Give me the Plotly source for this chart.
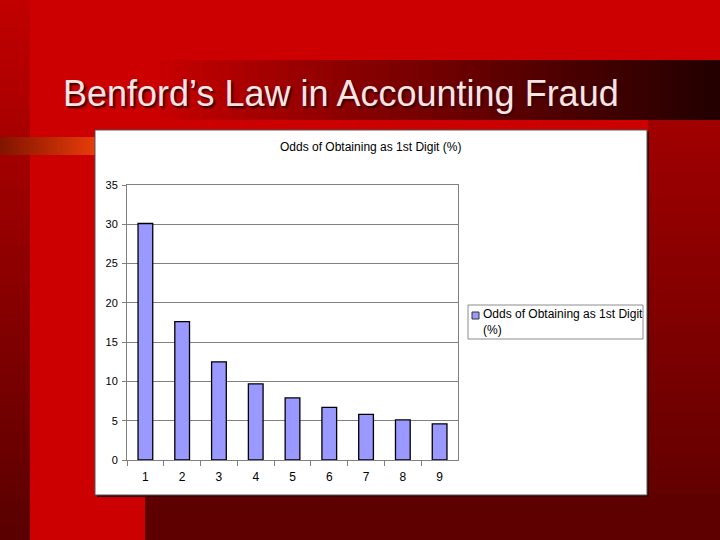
import plotly.graph_objects as go

digits = ["1", "2", "3", "4", "5", "6", "7", "8", "9"]
odds = [30.1, 17.6, 12.5, 9.7, 7.9, 6.7, 5.8, 5.1, 4.6]
series_name = "Odds of Obtaining as 1st Digit (%)"
legend_label = "Odds of Obtaining as 1st Digit<br>(%)"
slide_title = "Benford\u2019s Law in Accounting Fraud"

W, H = 720, 540

def px(x):
    return x / W

def py(y):
    return 1 - y / H

def lerp(c1, c2, t):
    return "rgb(%d,%d,%d)" % tuple(round(a + (b - a) * t) for a, b in zip(c1, c2))

shapes = []

def rect(x0, y0, x1, y1, fill, line=None, lw=0, layer="below"):
    shapes.append(dict(type="rect", xref="paper", yref="paper", x0=px(x0), x1=px(x1),
                       y0=py(y1), y1=py(y0), fillcolor=fill, layer=layer,
                       line=dict(width=lw, color=line or fill)))

n = 40
# left dark strip (vertical gradient)
for i in range(n):
    t = i / (n - 1)
    rect(0, 540 * i / n, 30, 540 * (i + 1) / n + 1, lerp((192, 0, 0), (90, 0, 0), t))
# title band horizontal gradient
for i in range(n):
    t = i / (n - 1)
    x0 = 145 + (720 - 145) * i / n
    x1 = 145 + (720 - 145) * (i + 1) / n + 1
    rect(x0, 60, x1, 120, lerp((204, 0, 0), (36, 0, 0), t ** 0.9))
# right region vertical gradient
for i in range(n):
    t = i / (n - 1)
    y0 = 120 + (540 - 120) * i / n
    y1 = 120 + (540 - 120) * (i + 1) / n + 1
    rect(648, y0, 720, y1, lerp((160, 0, 0), (92, 0, 0), t))
# bottom dark region
rect(145, 495, 720, 540, "#5E0000")
# orange accent bar
for i in range(n):
    t = i / (n - 1)
    rect(95 * i / n, 137, 95 * (i + 1) / n + 1, 155, lerp((130, 20, 0), (230, 60, 10), t))
# chart box shadow + white box
rect(97, 132, 649, 497, "#3A0000")
rect(95, 130, 647, 495, "white", line="#555555", lw=1)
# legend box and key
rect(468, 305, 643, 339, "white", line="#8C8C8C", lw=1, layer="above")
rect(472, 312, 479, 319, "#9999FF", line="#333333", lw=1, layer="above")

fig = go.Figure()
fig.add_trace(go.Bar(
    x=digits, y=odds, name=series_name,
    marker=dict(color="#9999FF", line=dict(color="black", width=1.3)),
    showlegend=False,
))

fig.update_layout(
    width=W, height=H,
    margin=dict(l=0, r=0, t=0, b=0, pad=0, autoexpand=False),
    paper_bgcolor="#CC0000",
    plot_bgcolor="#C0C0C0",
    font=dict(family="Liberation Sans, Arial", size=12, color="black"),
    bargap=0.6,
    shapes=shapes,
    showlegend=False,
    xaxis=dict(
        domain=[px(127), px(458)],
        tickson="boundaries", ticks="outside", ticklen=5, tickcolor="#808080",
        ticklabelstandoff=6,
        showline=True, linecolor="#808080", mirror=True,
        showgrid=False, tickfont=dict(size=12), fixedrange=True,
    ),
    yaxis=dict(
        domain=[py(460), py(185)],
        range=[0, 35], dtick=5, ticks="outside", ticklen=4, tickcolor="#808080",
        ticklabelstandoff=2,
        showline=True, linecolor="#808080", mirror=True,
        gridcolor="#808080", gridwidth=1, zeroline=False,
        tickfont=dict(size=11), fixedrange=True,
    ),
    annotations=[
        dict(text=slide_title, xref="paper", yref="paper", x=px(61), y=py(94),
             xanchor="left", yanchor="middle", showarrow=False,
             font=dict(family="Liberation Sans, Arial", size=36, color="#FCE4E4",
                       shadow="2px 2px 2px #300000")),
        dict(text=series_name, xref="paper", yref="paper", x=px(371), y=py(147),
             xanchor="center", yanchor="middle", showarrow=False,
             font=dict(size=12, color="black")),
        dict(text=legend_label, xref="paper", yref="paper", x=px(481), y=py(322),
             xanchor="left", yanchor="middle", align="left", showarrow=False,
             font=dict(size=12, color="black")),
    ],
)

fig.write_html(
    "out.html",
    config={"displayModeBar": False, "responsive": False},
    post_script="document.body.style.margin='0';document.body.style.overflow='hidden';",
)
